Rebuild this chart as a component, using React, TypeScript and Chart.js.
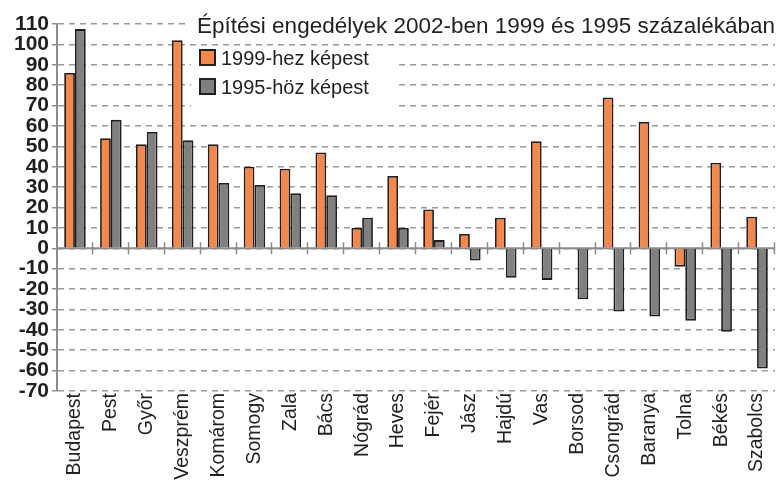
import { useEffect, useRef } from "react";
import { Chart, registerables } from "chart.js";

Chart.register(...registerables);

const categories = [
  "Budapest", "Pest", "Győr", "Veszprém", "Komárom", "Somogy", "Zala", "Bács",
  "Nógrád", "Heves", "Fejér", "Jász", "Hajdú", "Vas", "Borsod", "Csongrád",
  "Baranya", "Tolna", "Békés", "Szabolcs",
];
const vs1999 = [86, 54, 51, 102, 51, 40, 39, 47, 10, 35.5, 19, 7, 15, 52.5, 0, 74, 62, -9, 42, 15.5];
const vs1995 = [107.5, 63, 57, 53, 32, 31, 27, 26, 15, 10, 4, -6, -14.5, -15.5, -25, -31, -33.5, -35.5, -41, -59];
const seriesLabels = ["1999-hez képest", "1995-höz képest"];
const titleText = "Építési engedélyek 2002-ben 1999 és 1995 százalékában";
const yMin = -70;
const yMax = 110;
const yStep = 10;

const ORANGE = "#f4874b";
const GRAY = "#808080";
const EDGE = "#231f20";
const FONT = "'Liberation Sans', Arial, sans-serif";

const decor = {
  id: "decor",
  beforeDatasetsDraw(chart: any) {
    const { ctx, chartArea, scales } = chart;
    const x = scales.x;
    const y = scales.y;
    const y0 = y.getPixelForValue(0);
    ctx.save();
    ctx.strokeStyle = "#8c8c8c";
    ctx.lineWidth = 2;
    ctx.beginPath();
    ctx.moveTo(chartArea.left, y0);
    ctx.lineTo(chartArea.right, y0);
    ctx.stroke();
    ctx.lineWidth = 1.5;
    const n = chart.data.labels.length;
    const step = x.getPixelForValue(1) - x.getPixelForValue(0);
    for (let i = 0; i < n; i++) {
      const px = Math.round(x.getPixelForValue(i) + step / 2) - 0.5;
      ctx.beginPath();
      ctx.moveTo(px, y0 - 6);
      ctx.lineTo(px, y0 + 6);
      ctx.stroke();
    }
    ctx.restore();
  },
  afterDraw(chart: any) {
    const { ctx } = chart;
    ctx.save();
    ctx.fillStyle = "#ffffff";
    ctx.fillRect(189, 8, 587, 30);
    ctx.fillRect(191, 47, 205, 64);
    ctx.fillStyle = EDGE;
    ctx.font = `22.5px ${FONT}`;
    ctx.textAlign = "right";
    ctx.textBaseline = "alphabetic";
    ctx.fillText(titleText, 775, 33);
    ctx.textAlign = "left";
    ctx.font = `20px ${FONT}`;
    const ds = chart.data.datasets;
    const rows = [50, 79];
    ds.forEach((d: any, i: number) => {
      const top = rows[i];
      ctx.fillStyle = d.backgroundColor;
      ctx.fillRect(200, top, 15, 15);
      ctx.strokeStyle = EDGE;
      ctx.lineWidth = 2;
      ctx.strokeRect(200, top, 15, 15);
      ctx.fillStyle = EDGE;
      ctx.fillText(d.label, 221, top + 15);
    });
    ctx.restore();
  },
};

export default function App() {
  const ref = useRef<HTMLCanvasElement | null>(null);
  useEffect(() => {
    document.body.style.margin = "0";
    const canvas = ref.current;
    if (!canvas) return;
    const chart = new Chart(canvas, {
      type: "bar",
      data: {
        labels: categories,
        datasets: [
          {
            label: seriesLabels[0],
            data: vs1999,
            backgroundColor: ORANGE,
            borderColor: EDGE,
            borderWidth: 1.8,
          },
          {
            label: seriesLabels[1],
            data: vs1995,
            backgroundColor: GRAY,
            borderColor: EDGE,
            borderWidth: 1.8,
          },
        ],
      },
      options: {
        animation: false,
        responsive: true,
        maintainAspectRatio: false,
        layout: { padding: { top: 24, right: 1, left: 0, bottom: 0 } },
        datasets: {
          bar: { categoryPercentage: 0.6, barPercentage: 1 },
        },
        plugins: {
          legend: { display: false },
          title: { display: false },
          tooltip: { enabled: false },
        },
        scales: {
          x: {
            offset: true,
            grid: { display: false, drawTicks: false, tickLength: 0 },
            border: { display: false },
            ticks: {
              autoSkip: false,
              minRotation: 90,
              maxRotation: 90,
              padding: 2,
              color: EDGE,
              font: { family: FONT, size: 19.5 },
            },
            afterFit: (s: any) => {
              s.height = 89;
              s.paddingLeft = 0;
              s.paddingRight = 0;
            },
          },
          y: {
            min: yMin,
            max: yMax,
            ticks: {
              stepSize: yStep,
              autoSkip: false,
              padding: 3,
              color: EDGE,
              font: { family: FONT, size: 21, weight: "bold" },
            },
            grid: {
              color: "#9a9a9a",
              lineWidth: 1.5,
              tickLength: 5,
              tickColor: "#8c8c8c",
              tickBorderDash: [],
            },
            border: { display: true, color: "#8c8c8c", width: 2, dash: [6, 5] },
            afterFit: (s: any) => {
              s.width = 57;
            },
          },
        },
      },
      plugins: [decor],
    });
    return () => chart.destroy();
  }, []);
  return (
    <div style={{ position: "relative", width: 776, height: 480 }}>
      <canvas ref={ref} />
    </div>
  );
}
